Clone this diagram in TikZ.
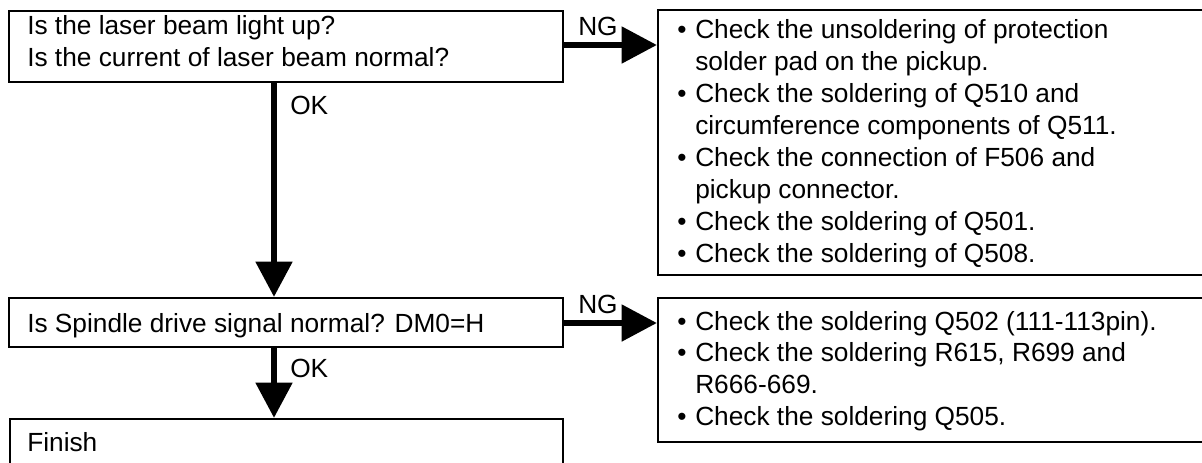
\documentclass[tikz,border=0pt]{standalone}
\usepackage{fontspec}
\setmainfont{Liberation Sans}
\usetikzlibrary{arrows.meta,fit}
\begin{document}
\begin{tikzpicture}[x=0.75pt,y=-0.75pt,
  box/.style={draw,line width=1.5pt,inner sep=0pt,fit={#1}},
  txt/.style={anchor=base west,inner sep=0pt,font=\fontsize{19.7pt}{24pt}\selectfont},
  bigarrow/.style={line width=5.2pt,-{Triangle[length=26.5pt,width=26.5pt]}},
]
\useasboundingbox (0,0) rectangle (1202,462);
\clip (0,0) rectangle (1202,462);
% left boxes
\node[box={(9,11) (563,82)}] (b1) {};
\node[box={(9,298) (563,347)}] (b2) {};
\node[box={(10,419) (563,490)}] (b3) {};
\node[txt] (b1t1) at (27,34) {Is the laser beam light up?};
\node[txt] (b1t2) at (27,66) {Is the current of laser beam normal?};
\node[txt] (b2t) at (27,332) {Is Spindle drive signal normal? DM0=H};
\node[txt] (b3t) at (27,451) {Finish};
% right boxes
\node[box={(658,10) (1215,275)}] (r1) {};
\node[box={(658,298) (1215,442)}] (r2) {};
\foreach \n/\y/\b/\t in {
  1/38/1/Check the unsoldering of protection,
  2/70/0/solder pad on the pickup.,
  3/102/1/Check the soldering of Q510 and,
  4/134/0/circumference components of Q511.,
  5/166/1/Check the connection of F506 and,
  6/198/0/pickup connector.,
  7/230/1/Check the soldering of Q501.,
  8/262/1/Check the soldering of Q508.}{
  \ifnum\b=1 \node[txt] (r1b\n) at (677,\y) {•};\fi
  \node[txt] (r1t\n) at (695,\y) {\t};
}
\foreach \n/\y/\b/\t in {
  1/330/1/Check the soldering Q502 (111-113pin).,
  2/361.7/1/{Check the soldering R615, R699 and},
  3/393.4/0/R666-669.,
  4/425.1/1/Check the soldering Q505.}{
  \ifnum\b=1 \node[txt] (r2b\n) at (677,\y) {•};\fi
  \node[txt] (r2t\n) at (695,\y) {\t};
}
% connectors
\coordinate (ax) at (274,0);
\coordinate (ng1y) at (0,45);
\coordinate (ng2y) at (0,323);
\draw[bigarrow] (b1.south -| ax) -- (b2.north -| ax);
\draw[bigarrow] (b2.south -| ax) -- (b3.north -| ax);
\draw[bigarrow] (b1.east |- ng1y) -- (r1.west |- ng1y);
\draw[bigarrow] (b2.east |- ng2y) -- (r2.west |- ng2y);
\node[txt] (ok1) at (290,114) {OK};
\node[txt] (ok2) at (290,377) {OK};
\node[txt] (ng1) at (578,35) {NG};
\node[txt] (ng2) at (578,313) {NG};
\end{tikzpicture}
\end{document}
